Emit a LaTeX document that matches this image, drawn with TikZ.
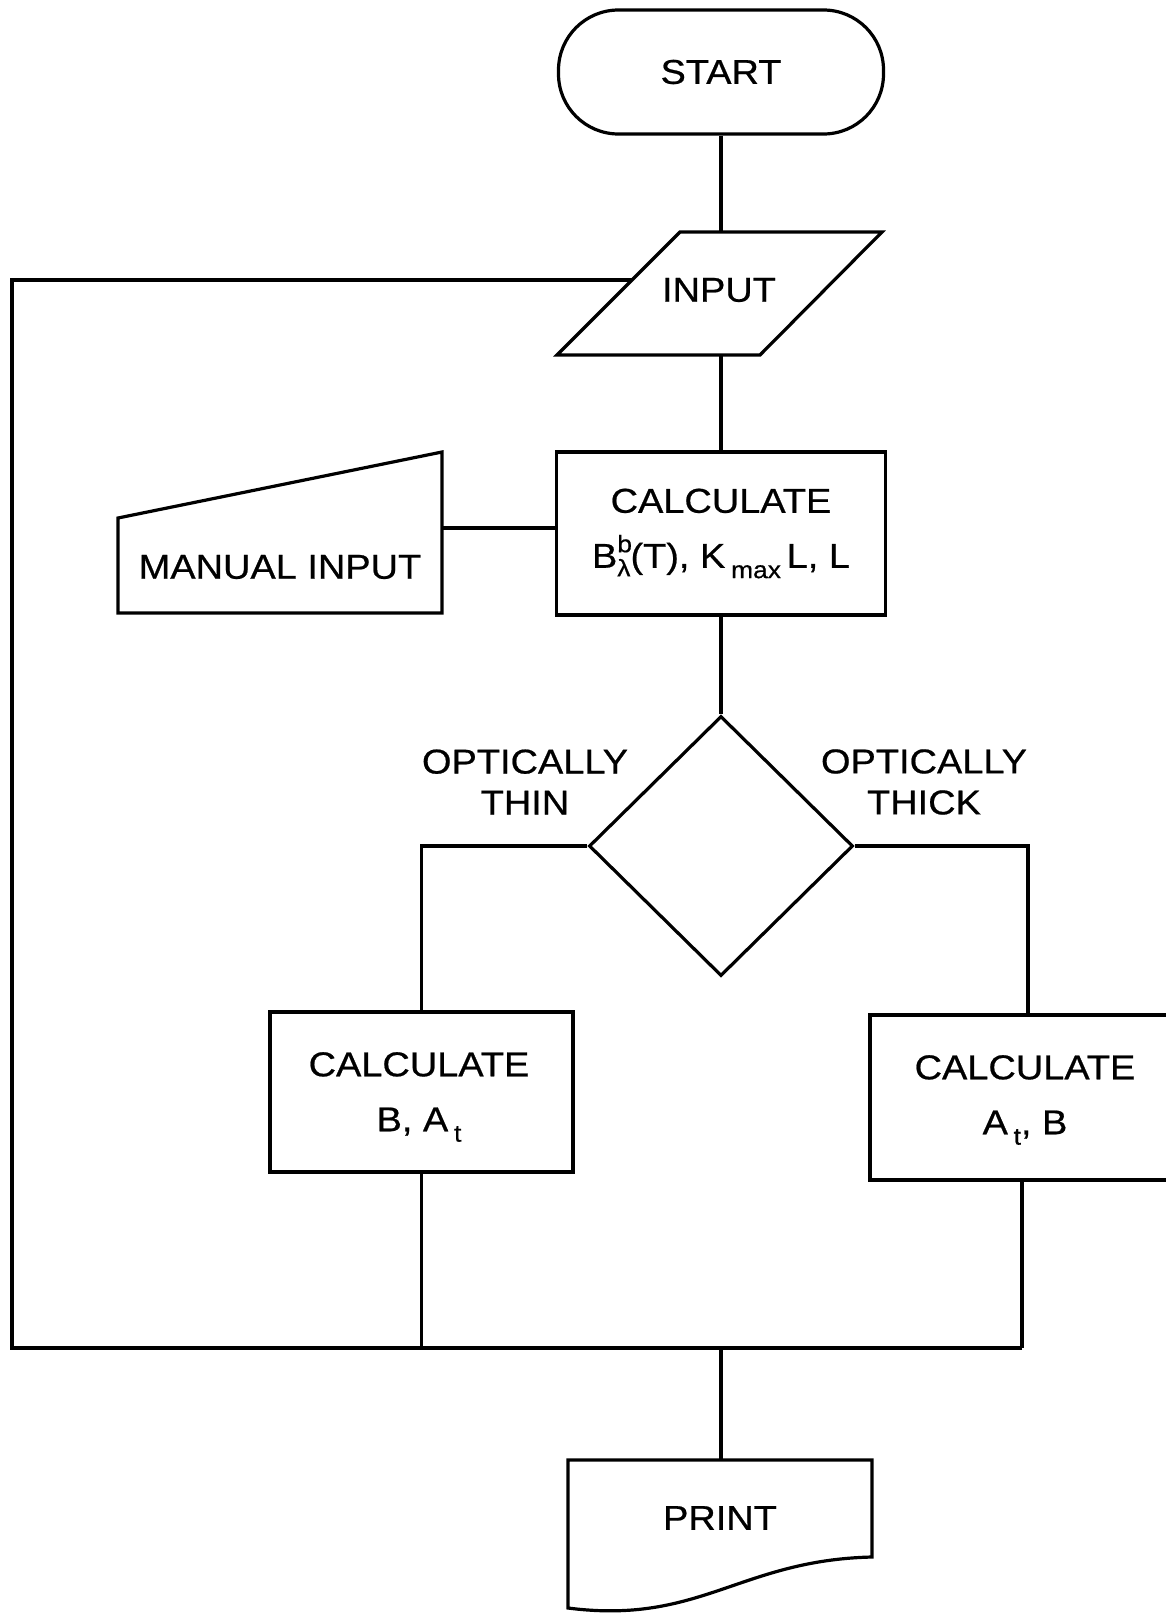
\documentclass[tikz,border=0pt]{standalone}
\usepackage{fontspec}
\setmainfont{Liberation Sans}[FakeStretch=1.1,FakeBold=0.6]
\usetikzlibrary{shapes.geometric}
\newcommand\bigtxt{\fontsize{34.5}{55}\selectfont}
\newcommand\smtxt{\fontsize{24}{24}\selectfont}
\newcommand\supsub[2]{\rlap{\raisebox{0.45em}{\smtxt #1}}\raisebox{-0.25em}{\smtxt #2}}
\newcommand\lowsub[1]{\raisebox{-0.3em}{\smtxt #1}}
\begin{document}
\begin{tikzpicture}[x=1pt,y=-1pt,line width=3.2pt,
  box/.style={draw,rectangle,inner sep=0pt,align=center,font=\bigtxt},
  txt/.style={align=center,font=\bigtxt,inner sep=0pt},
  lbl/.style={align=center,font=\fontsize{34.5}{41}\selectfont,inner sep=0pt}]
\useasboundingbox (0,0) rectangle (1166,1620);
% START
\node[box,rounded corners=60pt,minimum width=325pt,minimum height=124pt] (start) at (721,72) {START};
% INPUT parallelogram
\draw (680,232) -- (882,232) -- (760,355) -- (557,355) -- cycle;
\node[txt] (input) at (719,290) {INPUT};
\coordinate (inTop) at (721,232);
\coordinate (inBot) at (721,355);
\coordinate (inLeft) at (632,280);
% CALCULATE box
\node[box,minimum width=329pt,minimum height=163pt] (calc) at (721,533.5)
  {CALCULATE\\B\supsub{b}{λ}(T), K\,\lowsub{max}\,L, L};
% MANUAL INPUT
\draw (118,518) -- (442,452) -- (442,613) -- (118,613) -- cycle;
\node[txt] (manual) at (280,567) {MANUAL INPUT};
\coordinate (miR) at (442,528);
% decision
\node[draw,diamond,minimum width=264pt,minimum height=260pt,inner sep=0pt] (dia) at (721,846) {};
\node[lbl] (thin) at (525,782) {OPTICALLY\\THIN};
\node[lbl] (thick) at (924,782) {OPTICALLY\\THICK};
% left box
\node[box,minimum width=303pt,minimum height=160pt] (lbox) at (421.5,1092) {};
\node[txt] (ltext) at (419,1097) {CALCULATE\\B, A\,\lowsub{t}};
% right box (cut by the page edge)
\draw (1166,1015) -- (870,1015) -- (870,1180) -- (1166,1180);
\node[txt] (rtext) at (1025,1100) {CALCULATE\\A\,\lowsub{t}, B};
\coordinate (rTop) at (1028,1015);
\coordinate (rBot) at (1022,1180);
% junctions
\coordinate (jL) at (12,1348);
\coordinate (jR) at (1022,1348);
\coordinate (jM) at (721,1348);
% PRINT
\draw (568,1460) -- (872,1460) -- (872,1557) .. controls (740,1560) and (700,1625) .. (568,1608) -- cycle;
\node[txt] (print) at (720,1518) {PRINT};
\coordinate (prTop) at (721,1460);
% connectors
\draw (start.south) -- (inTop);
\draw (inBot) -- (calc.north);
\draw (miR) -- (calc.west |- miR);
\draw (calc.south) -- (dia.north);
\draw (dia.west) -| (lbox.north);
\draw (dia.east) -| (rTop);
\draw (lbox.south) -- (lbox.south |- jL);
\draw (rBot) -- (jR);
\draw (jR) -- (jL) |- (inLeft);
\draw (jM) -- (prTop);
\end{tikzpicture}
\end{document}
